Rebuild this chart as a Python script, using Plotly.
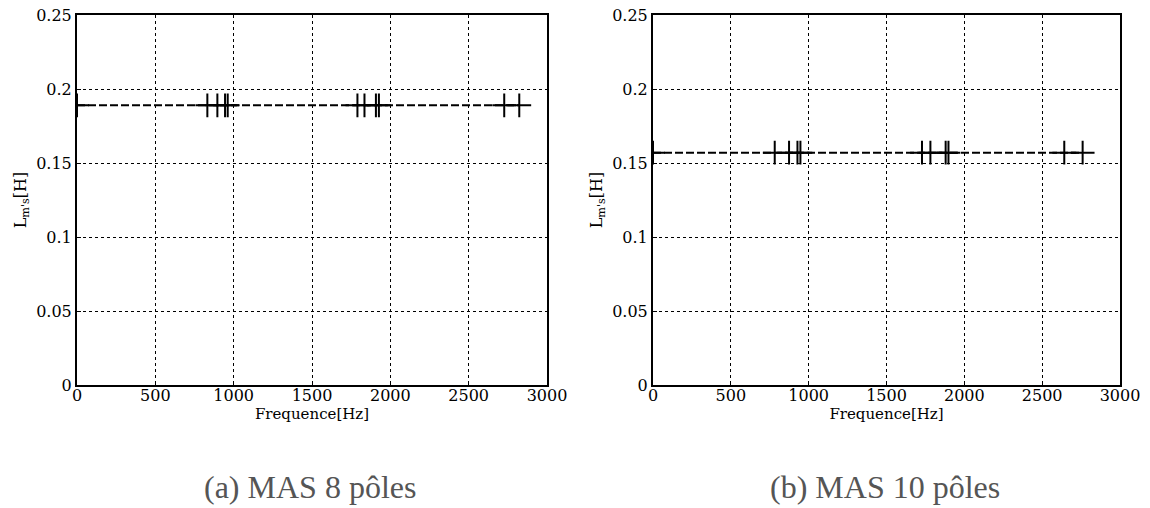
import plotly.graph_objects as go

# frequencies (Hz) of measured points and the identified inductance L_m's (H)
freq_8p = [0, 832, 896, 945, 962, 1790, 1835, 1908, 1927, 2727, 2823]
lms_8p = [0.189] * len(freq_8p)

freq_10p = [0, 782, 874, 928, 947, 1728, 1782, 1880, 1898, 2642, 2760]
lms_10p = [0.157] * len(freq_10p)

captions = ["(a) MAS 8 pôles", "(b) MAS 10 pôles"]

W, H = 1150, 508
FONT = "DejaVu Serif"

fig = go.Figure()

for i, (fx, fy) in enumerate([(freq_8p, lms_8p), (freq_10p, lms_10p)]):
    suffix = "" if i == 0 else str(i + 1)
    fig.add_trace(go.Scatter(
        x=fx, y=fy, mode="lines+markers",
        xaxis="x" + suffix, yaxis="y" + suffix,
        line=dict(color="black", width=2, dash="8px,3px"),
        marker=dict(symbol="cross-thin", size=17, line=dict(color="black", width=2)),
        showlegend=False,
    ))

# plot areas in pixels, converted to paper fractions
x_domains = [(77 / W, 547 / W), (653 / W, 1120 / W)]
y_domain = [(H - 385) / H, (H - 15) / H]

axis_common = dict(
    showline=True, linecolor="black", linewidth=2, mirror=True,
    ticks="inside", ticklen=4, tickcolor="black",
    showgrid=True, gridcolor="black", gridwidth=1, griddash="3px,3px",
    zeroline=False,
    tickfont=dict(family=FONT, size=16, color="black"),
    automargin=False,
)

layout = dict(
    width=W, height=H,
    margin=dict(l=0, r=0, t=0, b=0),
    paper_bgcolor="white", plot_bgcolor="white",
    font=dict(family=FONT, color="black"),
)

for i in range(2):
    suffix = "" if i == 0 else str(i + 1)
    layout["xaxis" + suffix] = dict(
        axis_common, domain=list(x_domains[i]), range=[0, 3000], dtick=500,
        anchor="y" + suffix, ticklabelstandoff=-5,
        title=dict(text="Frequence[Hz]", font=dict(family=FONT, size=15), standoff=1),
    )
    layout["yaxis" + suffix] = dict(
        axis_common, domain=y_domain, range=[0, 0.25], dtick=0.05,
        anchor="x" + suffix, tickformat="~g",
        title=dict(text="L<sub>m's</sub>[H]", font=dict(family=FONT, size=16), standoff=6),
    )

fig.update_layout(**layout)

# sub-figure captions under each plot
caption_x = [310 / W, 885 / W]
for i, text in enumerate(captions):
    fig.add_annotation(
        text=text, xref="paper", yref="paper",
        x=caption_x[i], y=(H - 487) / H, xanchor="center", yanchor="middle",
        showarrow=False,
        font=dict(family="Liberation Serif", size=32, color="#555555"),
    )

fig.write_html("out.html", config={"displayModeBar": False},
               post_script="document.body.style.margin='0';")
